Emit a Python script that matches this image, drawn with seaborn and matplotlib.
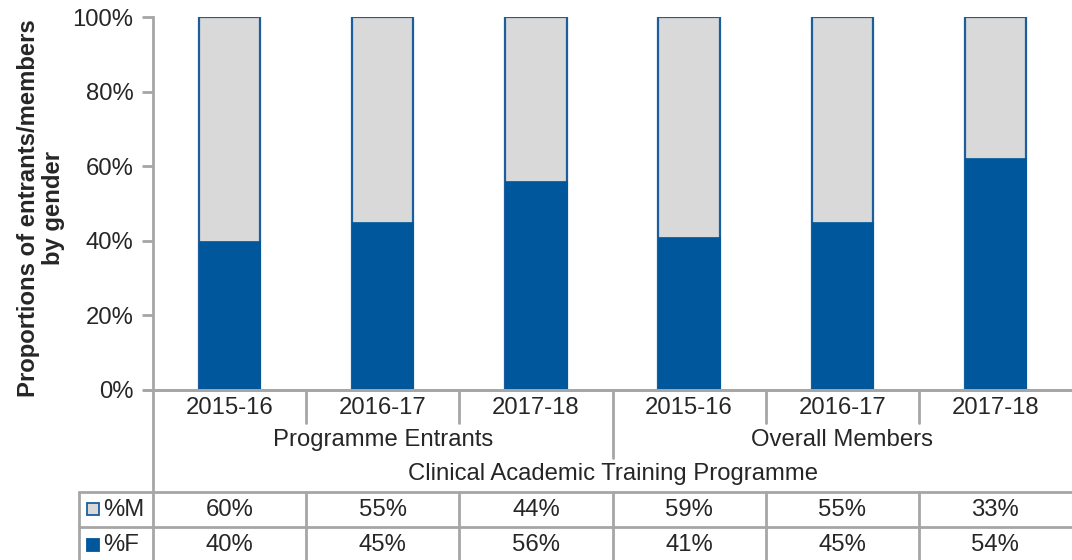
import matplotlib
matplotlib.use("Agg")
import matplotlib.pyplot as plt
from matplotlib.lines import Line2D
from matplotlib.patches import Rectangle
import seaborn as sns
import pandas as pd

# Data
years = ["2015-16", "2016-17", "2017-18", "2015-16", "2016-17", "2017-18"]
groups = ["Programme Entrants"] * 3 + ["Overall Members"] * 3
programme = "Clinical Academic Training Programme"
pct_m = [60, 55, 44, 59, 55, 33]
pct_f = [40, 45, 56, 41, 45, 54]
y_ticks = [0, 20, 40, 60, 80, 100]
y_label = "Proportions of entrants/members\nby gender"

COL_F = "#00579B"
COL_M = "#D9D9D9"
COL_EDGE = "#1B5E9E"
COL_GRID = "#A6A6A6"
FS = 17.2

sns.set_theme(style="white")
plt.rcParams["font.family"] = ["Liberation Sans", "DejaVu Sans"]

W, H = 1072, 560
fig = plt.figure(figsize=(W / 100, H / 100), dpi=100)

# plot area in pixel coordinates
x0, x1, ytop, ybot = 153, 1072, 17, 390
ax = fig.add_axes([x0 / W, 1 - ybot / H, (x1 - x0) / W, (ybot - ytop) / H])

keys = [f"{g}|{y}" for g, y in zip(groups, years)]
# 100% stacked shares
tot = [m + f for m, f in zip(pct_m, pct_f)]
share_f = [100 * f / t for f, t in zip(pct_f, tot)]
df = pd.DataFrame({"key": keys, "total": [100] * 6, "F": share_f})

sns.barplot(data=df, x="key", y="total", order=keys, color=COL_M,
            edgecolor=COL_EDGE, linewidth=1.6, width=0.4, saturation=1, ax=ax)
sns.barplot(data=df, x="key", y="F", order=keys, color=COL_F,
            edgecolor=COL_F, linewidth=0.5, width=0.4, saturation=1, ax=ax)

ax.set_xlim(-0.5, 5.5)
ax.set_ylim(0, 100)
ax.set_yticks(y_ticks)
ax.set_yticklabels([f"{v}%" for v in y_ticks], fontsize=FS)
ax.set_xticks([])
ax.set_xlabel("")
ax.set_ylabel("")
for s in ["top", "right"]:
    ax.spines[s].set_visible(False)
for s in ["left", "bottom"]:
    ax.spines[s].set_color(COL_GRID)
    ax.spines[s].set_linewidth(2)
ax.tick_params(axis="y", left=True, length=8, width=2, color=COL_GRID, pad=6)

def fy(py):
    return 1 - py / H

def fx(px):
    return px / W

def xpx(i):
    return x0 + (i + 0.5) * (x1 - x0) / 6

def hline(xa, xb, py):
    fig.add_artist(Line2D([fx(xa), fx(xb)], [fy(py), fy(py)], color=COL_GRID, lw=2))

def vline(px, ya, yb):
    fig.add_artist(Line2D([fx(px), fx(px)], [fy(ya), fy(yb)], color=COL_GRID, lw=2))

# bottom axis extends left to the tick length
hline(x0 - 9, x1, ybot)

# category separators
for i in range(1, 6):
    sep = x0 + i * (x1 - x0) / 6
    if i == 3:
        vline(sep, ybot, 458)
    else:
        vline(sep, ybot, 423)
    vline(sep, 492, H)
vline(x0, ybot, H)

for i, y in enumerate(years):
    fig.text(fx(xpx(i)), fy(408), y, ha="center", va="center", fontsize=FS)

fig.text(fx(xpx(1)), fy(440), groups[0], ha="center", va="center", fontsize=FS)
fig.text(fx(xpx(4)), fy(440), groups[3], ha="center", va="center", fontsize=FS)
fig.text(fx(x0 + (x1 - x0) / 2), fy(474), programme, ha="center", va="center", fontsize=FS)

# data table
hline(79, x1, 492)
hline(79, x1, 527)
vline(79, 492, H)
for i in range(6):
    fig.text(fx(xpx(i)), fy(510), f"{pct_m[i]}%", ha="center", va="center", fontsize=FS)
    fig.text(fx(xpx(i)), fy(545), f"{pct_f[i]}%", ha="center", va="center", fontsize=FS)

# legend keys
fig.add_artist(Rectangle((fx(86.5), fy(515)), 12 / W, 12 / H, transform=fig.transFigure,
                         facecolor=COL_M, edgecolor=COL_EDGE, lw=1.3))
fig.add_artist(Rectangle((fx(86.5), fy(551)), 12 / W, 12 / H, transform=fig.transFigure,
                         facecolor=COL_F, edgecolor=COL_F, lw=1.3))
fig.text(fx(103), fy(510), "%M", ha="left", va="center", fontsize=FS)
fig.text(fx(103), fy(545), "%F", ha="left", va="center", fontsize=FS)

fig.text(fx(41), fy(208), y_label, rotation=90, ha="center", va="center",
         fontsize=FS, fontweight="bold", linespacing=1.12)

fig.savefig("out.png", dpi=100)
